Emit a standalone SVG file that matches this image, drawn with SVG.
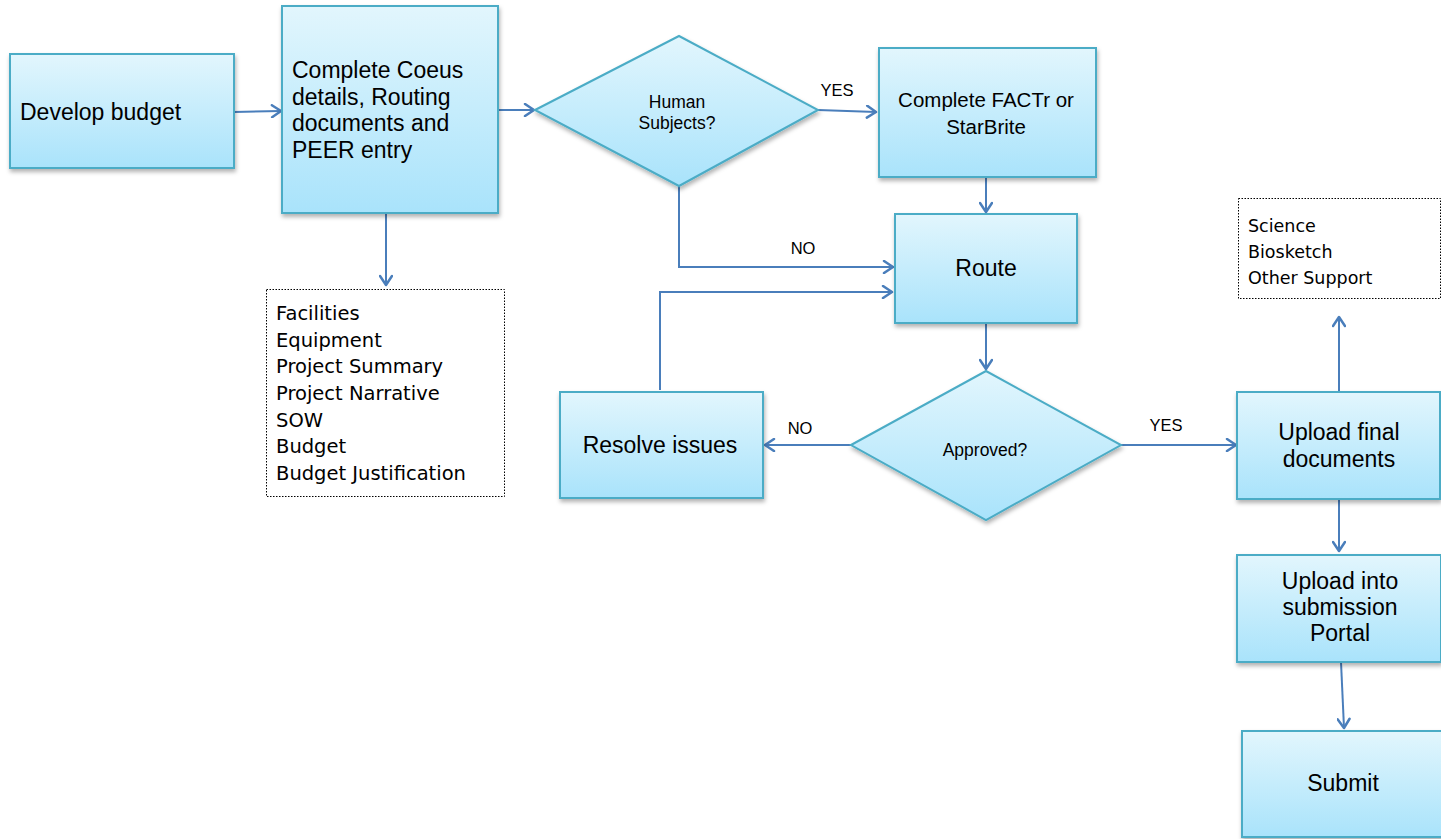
<svg xmlns="http://www.w3.org/2000/svg" width="1441" height="839" viewBox="0 0 1441 839">
<defs>
<linearGradient id="g" x1="0" y1="0" x2="0" y2="1">
<stop offset="0" stop-color="#e2f6fd"/>
<stop offset="1" stop-color="#a9e3fb"/>
</linearGradient>
<filter id="sh" x="-10%" y="-10%" width="130%" height="130%">
<feDropShadow dx="1" dy="3" stdDeviation="2" flood-color="#000" flood-opacity="0.3"/>
</filter>
<marker id="a" markerWidth="14" markerHeight="14" viewBox="0 0 14 14" refX="12" refY="7" orient="auto" markerUnits="userSpaceOnUse">
<path d="M3,1 L12,7 L3,13" fill="none" stroke="#4a7ebb" stroke-width="2.5" stroke-linejoin="round" stroke-linecap="round"/>
</marker>
</defs>
<style>
.box{fill:url(#g);stroke:#4bacc6;stroke-width:2;filter:url(#sh)}
.note{fill:#fff;stroke:#000;stroke-width:1;stroke-dasharray:1.5 1.5}
.c{fill:none;stroke:#4a7ebb;stroke-width:2;marker-end:url(#a)}
text{font-family:"Liberation Sans",Arial,sans-serif;fill:#000}
.t23{font-size:23px}
.t20{font-size:20.5px}
.t17{font-size:17.5px}
.lab{font-size:16.5px;text-anchor:middle}
.list{font-family:"DejaVu Sans",Verdana,sans-serif;font-size:19.5px}
.list2{font-family:"DejaVu Sans",Verdana,sans-serif;font-size:17.5px}
.m{text-anchor:middle}
</style>
<rect width="1441" height="839" fill="#fff"/>
<g id="connectors">
<path class="c" d="M234,112 L281,111"/>
<path class="c" d="M498,110 L534,110"/>
<path class="c" d="M818,110 L876,112"/>
<path class="c" d="M986,177 L986,212"/>
<path class="c" d="M679,186 L679,267 L893,267"/>
<path class="c" d="M660,390 L660,292 L892,292"/>
<path class="c" d="M986,323 L986,369"/>
<path class="c" d="M851,445 L765,445"/>
<path class="c" d="M1121,445 L1236,445"/>
<path class="c" d="M1339,391 L1339,317"/>
<path class="c" d="M1339,499 L1339,551"/>
<path class="c" d="M1341,662 L1344,728"/>
<path class="c" d="M386,213 L386,285"/>
<text class="lab" x="837" y="96">YES</text>
<text class="lab" x="803" y="254">NO</text>
<text class="lab" x="800" y="434">NO</text>
<text class="lab" x="1166" y="431">YES</text>
</g>
<g id="n-develop">
<rect class="box" x="10" y="54" width="224" height="114"/>
<text class="t23" x="20" y="120">Develop budget</text>
</g>
<g id="n-coeus">
<rect class="box" x="282" y="6" width="216" height="207"/>
<text class="t23" x="292" y="78">Complete Coeus</text>
<text class="t23" x="292" y="104.5">details, Routing</text>
<text class="t23" x="292" y="131">documents and</text>
<text class="t23" x="292" y="157.5">PEER entry</text>
</g>
<g id="n-human">
<polygon class="box" points="535,110 679,36 818,110 679,186"/>
<text class="t17 m" x="677" y="108">Human</text>
<text class="t17 m" x="677" y="129">Subjects?</text>
</g>
<g id="n-factr">
<rect class="box" x="879" y="48" width="217" height="129"/>
<text class="t20 m" x="986" y="107">Complete FACTr or</text>
<text class="t20 m" x="986" y="134">StarBrite</text>
</g>
<g id="n-route">
<rect class="box" x="895" y="214" width="182" height="109"/>
<text class="t23 m" x="986" y="276">Route</text>
</g>
<g id="n-approved">
<polygon class="box" points="851,445 986,371 1121,445 986,520"/>
<text class="t17 m" x="985" y="456">Approved?</text>
</g>
<g id="n-resolve">
<rect class="box" x="560" y="392" width="203" height="106"/>
<text class="t23 m" x="660" y="453">Resolve issues</text>
</g>
<g id="n-uploadfinal">
<rect class="box" x="1237" y="392" width="203" height="107"/>
<text class="t23 m" x="1339" y="440">Upload final</text>
<text class="t23 m" x="1339" y="467">documents</text>
</g>
<g id="n-portal">
<rect class="box" x="1237" y="555" width="204" height="107"/>
<text class="t23 m" x="1340" y="589">Upload into</text>
<text class="t23 m" x="1340" y="615">submission</text>
<text class="t23 m" x="1340" y="641">Portal</text>
</g>
<g id="n-submit">
<rect class="box" x="1242" y="731" width="205" height="106"/>
<text class="t23 m" x="1343" y="791">Submit</text>
</g>
<g id="n-science">
<rect class="note" x="1238.5" y="198.5" width="202" height="100"/>
<text class="list2" x="1248" y="232">Science</text>
<text class="list2" x="1248" y="258">Biosketch</text>
<text class="list2" x="1248" y="284">Other Support</text>
</g>
<g id="n-docs">
<rect class="note" x="266.5" y="289.5" width="238" height="207"/>
<text class="list" x="276" y="320">Facilities</text>
<text class="list" x="276" y="347">Equipment</text>
<text class="list" x="276" y="373">Project Summary</text>
<text class="list" x="276" y="400">Project Narrative</text>
<text class="list" x="276" y="427">SOW</text>
<text class="list" x="276" y="453">Budget</text>
<text class="list" x="276" y="480">Budget Justification</text>
</g>
</svg>
